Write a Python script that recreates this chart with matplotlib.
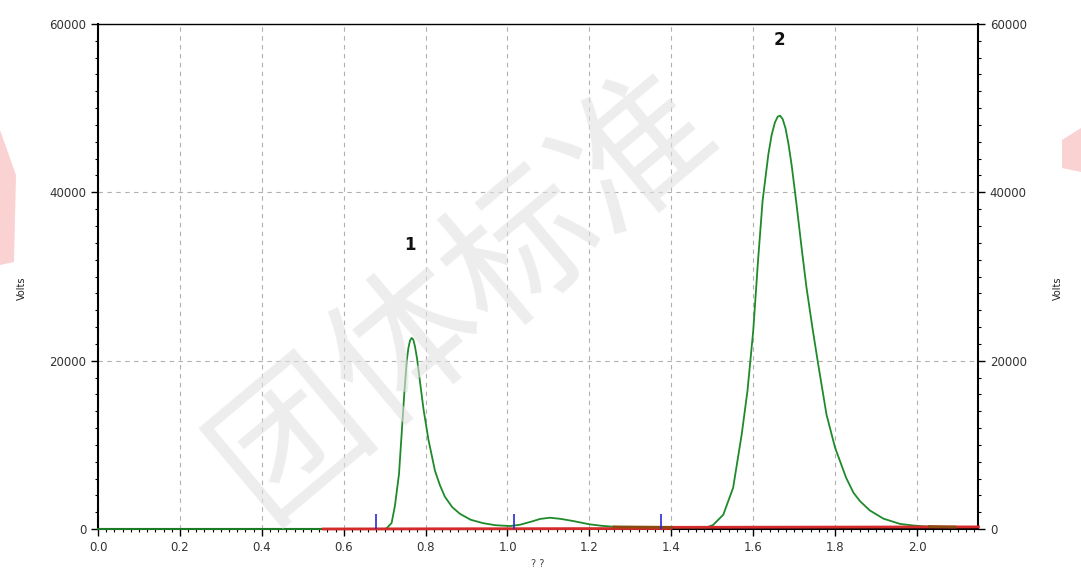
import matplotlib
matplotlib.use("Agg")
import matplotlib.pyplot as plt
from matplotlib.ticker import MultipleLocator
from matplotlib.patches import Polygon

# ---- data ----
sig_x = [0.0, 0.70, 0.705, 0.717, 0.725, 0.735, 0.742, 0.748, 0.754, 0.758, 0.762,
         0.766, 0.770, 0.774, 0.779, 0.785, 0.795, 0.807, 0.823, 0.835, 0.847,
         0.865, 0.884, 0.91, 0.94, 0.97, 1.006, 1.03, 1.06, 1.08, 1.104, 1.13,
         1.16, 1.2, 1.23, 1.258, 1.3, 1.4, 1.487, 1.502, 1.527, 1.551, 1.572,
         1.586, 1.6, 1.612, 1.623, 1.637, 1.645, 1.653, 1.660, 1.666, 1.672,
         1.679, 1.686, 1.694, 1.706, 1.718, 1.73, 1.745, 1.759, 1.779, 1.8,
         1.827, 1.845, 1.861, 1.885, 1.918, 1.959, 1.99, 2.016, 2.05, 2.093]
sig_y = [0, 0, 100, 715, 2726, 6500, 11660, 16130, 20000, 21500, 22400,
         22700, 22500, 21700, 20300, 18000, 14200, 10600, 6900, 5200, 3840,
         2600, 1800, 1100, 700, 450, 350, 500, 900, 1200, 1340, 1200,
         950, 560, 380, 270, 220, 200, 200, 475, 1700, 4900, 11250,
         16400, 23500, 32000, 39000, 44500, 46800, 48300, 49000, 49100, 48700,
         47600, 45800, 43200, 38500, 33500, 28750, 23800, 19500, 13600, 9660,
         6080, 4300, 3300, 2200, 1230, 600, 420, 320, 250, 220]

base_x = [0.55, 1.40, 1.40, 2.15]
base_y = [0, 60, 200, 250]

overlap1_x = [1.26, 1.40]
overlap1_y = [250, 200]
overlap2_x = [2.03, 2.093]
overlap2_y = [290, 230]

marker_x = [0.68, 1.015, 1.375]
marker_h = 1800

peak_labels = ["1", "2"]
peak_label_x = [0.762, 1.665]
peak_label_y = [33700, 58100]

x_ticks = [0.0, 0.2, 0.4, 0.6, 0.8, 1.0, 1.2, 1.4, 1.6, 1.8, 2.0]
y_ticks = [0, 20000, 40000, 60000]

W, H = 1081, 576
fig = plt.figure(figsize=(W / 100, H / 100), dpi=100)
fig.patch.set_facecolor("white")

# decorative pink corner marks of the page background
fig.patches.append(Polygon([[0, 1 - 130 / H], [16 / W, 1 - 175 / H], [14 / W, 1 - 262 / H],
                            [0, 1 - 265 / H]], closed=True, transform=fig.transFigure,
                           facecolor="#fad2d2", edgecolor="none", zorder=0))
fig.patches.append(Polygon([[1, 1 - 128 / H], [1062 / W, 1 - 140 / H], [1062 / W, 1 - 168 / H],
                            [1, 1 - 172 / H]], closed=True, transform=fig.transFigure,
                           facecolor="#fad2d2", edgecolor="none", zorder=0))

# watermark
fig.text(0.43, 0.49, "团体标准", fontsize=108, rotation=40, color="#e2e2e2",
         alpha=0.6, ha="center", va="center", family=["Noto Sans CJK SC", "DejaVu Sans"],
         fontweight="light", zorder=0)

ax = fig.add_axes([98 / W, 1 - 529 / H, (978 - 98) / W, (529 - 24) / H])
ax.set_facecolor("none")
ax.set_xlim(0.0, 2.149)
ax.set_ylim(0, 60000)

ax.grid(True, which="major", color="#b0b0b0", linestyle=(0, (4, 4)), linewidth=0.8)

ax.plot(sig_x, sig_y, color="#1e8a2a", linewidth=1.3, zorder=6, clip_on=False)
ax.plot(base_x, base_y, color="#d42a2a", linewidth=2.0, zorder=7, clip_on=False)
ax.plot(overlap1_x, overlap1_y, color="#8a4a10", linewidth=2.0, zorder=8, clip_on=False)
ax.plot(overlap2_x, overlap2_y, color="#8a4a10", linewidth=2.0, zorder=8, clip_on=False)
ax.vlines(marker_x, 0, marker_h, colors="#2a2ad0", linewidth=1.2, zorder=9)

for lab, lx, ly in zip(peak_labels, peak_label_x, peak_label_y):
    ax.text(lx, ly, lab, fontsize=12, fontweight="bold", ha="center", va="center",
            color="#111111")

ax.set_xticks(x_ticks)
ax.set_xticklabels([f"{v:.1f}" for v in x_ticks])
ax.set_yticks(y_ticks)
ax.xaxis.set_minor_locator(MultipleLocator(0.02))
ax.yaxis.set_minor_locator(MultipleLocator(2000))

for s in ax.spines.values():
    s.set_color("black")
    s.set_linewidth(1.0)
    s.set_zorder(2.5)
ax.spines["left"].set_linewidth(1.5)
ax.spines["right"].set_linewidth(1.5)
ax.spines["bottom"].set_linewidth(1.5)

ax.tick_params(axis="both", which="major", direction="out", length=5, width=1,
               labelsize=8.5, colors="black", labelcolor="#333333")
ax.tick_params(axis="both", which="minor", direction="out", length=2.5, width=0.8)
ax.tick_params(axis="y", which="both", left=True, right=True, labelleft=True,
               labelright=True)
ax.tick_params(axis="x", which="both", top=False)

ax.set_xlabel("? ?", fontsize=7, color="#444444", labelpad=4)
fig.text(22 / W, 0.5, "Volts", fontsize=7, rotation=90, ha="center", va="center",
         color="#222222")
fig.text(1058 / W, 0.5, "Volts", fontsize=7, rotation=90, ha="center", va="center",
         color="#222222")

fig.savefig("out.png", dpi=100)
